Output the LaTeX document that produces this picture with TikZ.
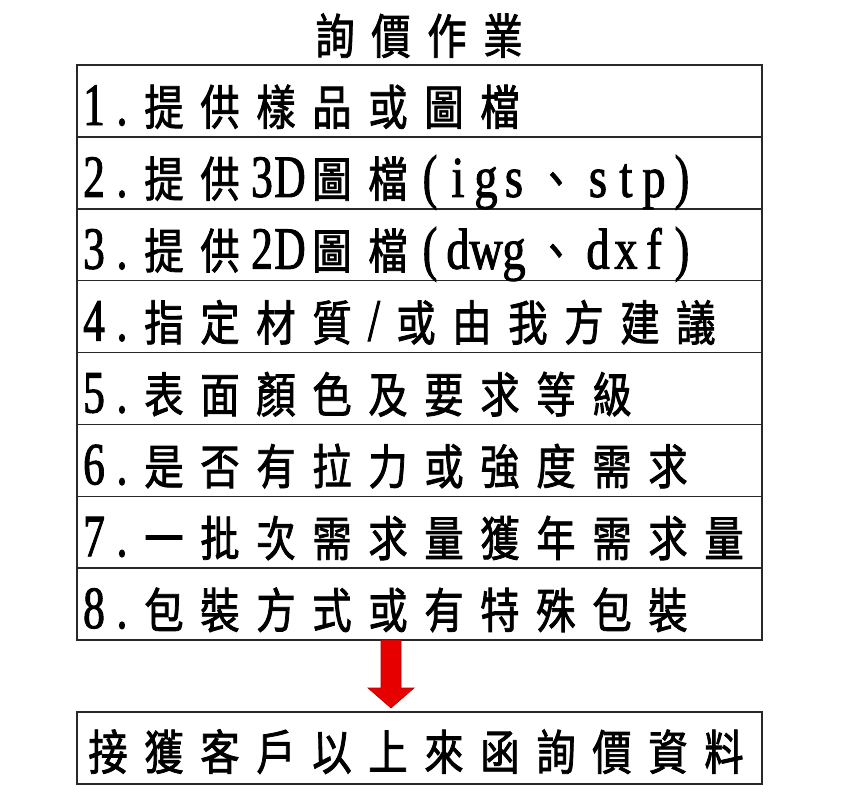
\documentclass[tikz,border=0pt]{standalone}
\usepackage{fontspec}
\usetikzlibrary{calc}
\newfontfamily\cjkfont[FakeStretch=0.82,FakeBold=1.6]{Noto Sans CJK TC}
\newfontfamily\latfont[FakeStretch=0.72,FakeBold=1.6]{Liberation Serif}
\newfontfamily\latwide[FakeStretch=0.8,FakeBold=1.6]{Liberation Serif}
\definecolor{arrowred}{RGB}{230,0,0}
\definecolor{linegray}{RGB}{40,40,40}
\makeatletter
\def\rr@stop{\rr@stop}
\newcommand\cj[1]{\cj@loop#1\rr@stop}
\def\cj@loop#1{\def\rr@tmp{#1}\ifx\rr@tmp\rr@stop\else\makebox[56pt][c]{\cjkfont\fontsize{48pt}{48pt}\selectfont #1}\expandafter\cj@loop\fi}
\newcommand\la[1]{\la@loop#1\rr@stop}
\def\la@loop#1{\def\rr@tmp{#1}\ifx\rr@tmp\rr@stop\else\makebox[28pt][c]{\latfont\fontsize{60pt}{60pt}\selectfont #1}\expandafter\la@loop\fi}
\newcommand\lw[1]{\lw@loop#1\rr@stop}
\def\lw@loop#1{\def\rr@tmp{#1}\ifx\rr@tmp\rr@stop\else\makebox[28pt][c]{\latwide\fontsize{58pt}{58pt}\selectfont #1}\expandafter\lw@loop\fi}
\makeatother
\tikzset{
  rowbox/.style={draw=linegray, line width=1.5pt, minimum width=685pt, minimum height=71.875pt, inner sep=0pt, outer sep=0pt, anchor=north west},
  rowtext/.style={anchor=base west, inner sep=0pt, outer sep=0pt, text=black},
  arrowshape/.style={fill=arrowred, draw=arrowred!80!black, line width=0.6pt}
}
\begin{document}
\begin{tikzpicture}[x=1pt,y=-1pt]
\path[fill=white, use as bounding box] (0,0) rectangle (843,800);
% title
\node[rowtext] (title) at (307,54) {\cj{詢價作業}};
% table rows
\node[rowbox] (r1) at (77,65) {};
\node[rowbox] (r2) at (r1.south west) {};
\node[rowbox] (r3) at (r2.south west) {};
\node[rowbox] (r4) at (r3.south west) {};
\node[rowbox] (r5) at (r4.south west) {};
\node[rowbox] (r6) at (r5.south west) {};
\node[rowbox] (r7) at (r6.south west) {};
\node[rowbox] (r8) at (r7.south west) {};
\node[rowtext] (t1) at ($(r1.north west)+(3,60)$) {\la{1.}\cj{提供樣品或圖檔}};
\node[rowtext] (t2) at ($(r2.north west)+(3,60)$) {\la{2.}\cj{提供}\la{3D}\cj{圖檔}\la{(}\lw{igs}\cj{、}\lw{stp}\la{)}};
\node[rowtext] (t3) at ($(r3.north west)+(3,60)$) {\la{3.}\cj{提供}\la{2D}\cj{圖檔}\la{(}\lw{dwg}\cj{、}\lw{dxf}\la{)}};
\node[rowtext] (t4) at ($(r4.north west)+(3,60)$) {\la{4.}\cj{指定材質}\la{/}\cj{或由我方建議}};
\node[rowtext] (t5) at ($(r5.north west)+(3,60)$) {\la{5.}\cj{表面顏色及要求等級}};
\node[rowtext] (t6) at ($(r6.north west)+(3,60)$) {\la{6.}\cj{是否有拉力或強度需求}};
\node[rowtext] (t7) at ($(r7.north west)+(3,60)$) {\la{7.}\cj{一批次需求量獲年需求量}};
\node[rowtext] (t8) at ($(r8.north west)+(3,60)$) {\la{8.}\cj{包裝方式或有特殊包裝}};
% bottom box
\node[rowbox, minimum height=72pt] (b) at (77,712) {};
\node[rowtext] (tb) at ($(b.north west)+(3,58)$) {\cj{接獲客戶以上來函詢價資料}};
% arrow
\coordinate (as) at ($(r8.south west)+(314,0)$);
\coordinate (ae) at ($(as |- b.north)+(0,-4)$);
\path[arrowshape] ($(as)+(-10,0)$) -- ($(ae)+(-10,-20)$) -- ($(ae)+(-23,-20)$) -- (ae)
  -- ($(ae)+(23,-20)$) -- ($(ae)+(10,-20)$) -- ($(as)+(10,0)$) -- cycle;
\end{tikzpicture}
\end{document}
